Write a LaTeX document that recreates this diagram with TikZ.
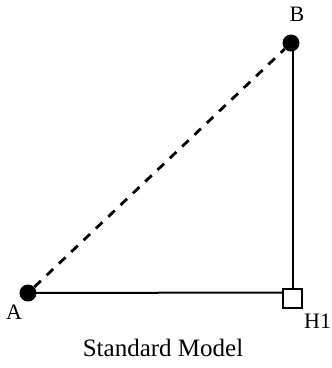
\documentclass[tikz,border=0pt]{standalone}
\usepackage{fontspec}
\setmainfont{Liberation Serif}
\begin{document}
\begin{tikzpicture}[x=1pt,y=-1pt,
  dot/.style={circle,fill=black,inner sep=0pt,minimum size=17pt},
  sqbox/.style={draw,line width=2pt,inner sep=0pt,minimum size=19pt},
  lbl/.style={font=\fontsize{22}{24}\selectfont,inner sep=0pt},
  ln/.style={line width=2pt}]
\useasboundingbox (0,0) rectangle (332,368);
\node[dot] (A) at (28,293) {};
\node[dot] (B) at (291,43) {};
\node[sqbox] (H) at (293,298) {};
\coordinate (Htop) at (293,288.5);
\coordinate (Bbot) at (293,43);
\coordinate (Hleft) at (283.5,292.5);
\draw[ln] (A.center) -- (Hleft);
\draw[ln] (Bbot) -- (Htop);
\draw[line width=2.8pt,dash pattern=on 9pt off 8pt] (A) -- (B);
\node[lbl,anchor=base] (la) at (14,319) {A};
\node[lbl,anchor=base] (lb) at (297,21) {B};
\node[lbl,anchor=base west] (lh) at (304,328) {H1};
\node[font=\fontsize{25}{26}\selectfont,inner sep=0pt,anchor=base] (title) at (163,356) {Standard Model};
\end{tikzpicture}
\end{document}
